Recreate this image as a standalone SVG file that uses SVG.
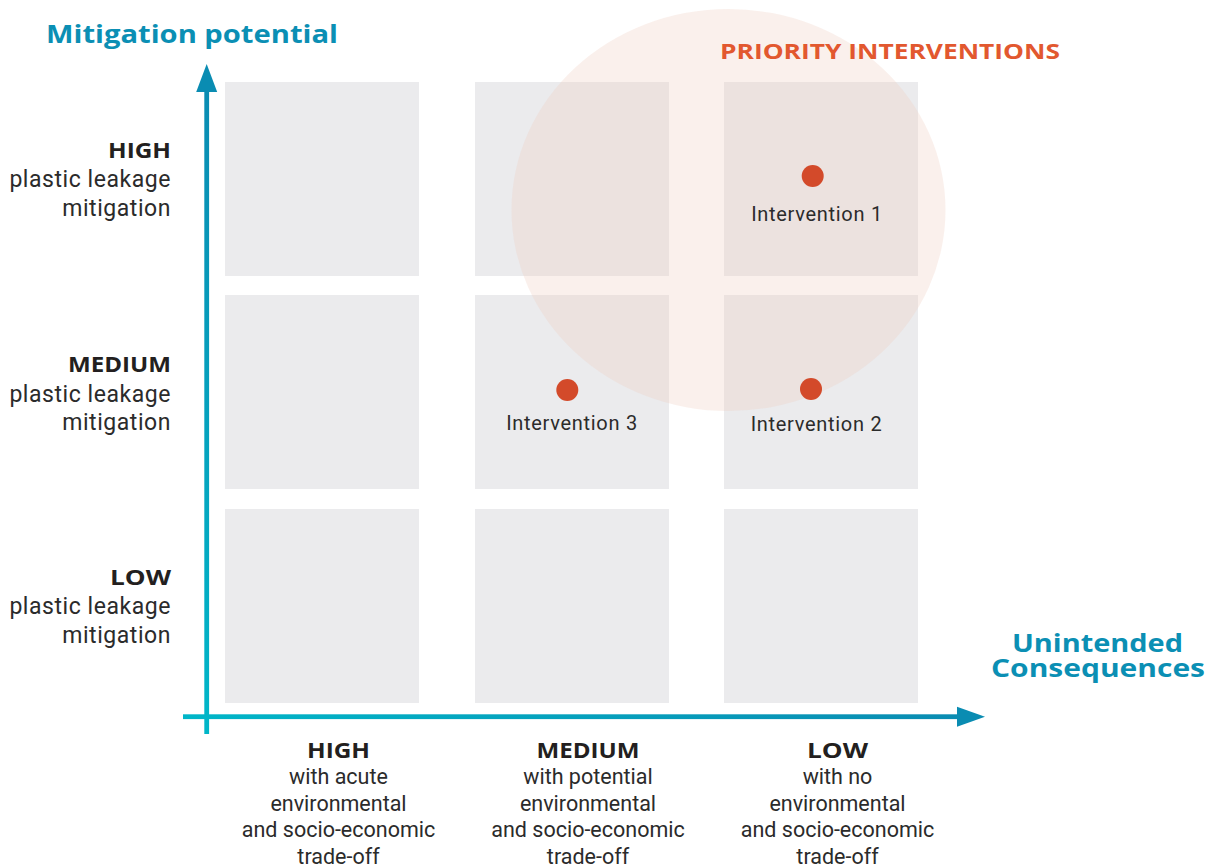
<svg xmlns="http://www.w3.org/2000/svg" width="1215" height="868" viewBox="0 0 1215 868">
<style>
.cell{fill:#ebebed}
.hd{font-family:"Open Sans",Lato,"Liberation Sans",sans-serif;font-weight:700}
.ttl{fill:#0b8fb4;font-size:25.5px}
.lvl{fill:#231f20;font-size:21.5px}
.bd{font-family:Roboto,"Liberation Sans",sans-serif;fill:#2b2b2b;font-size:21.5px}
.yb{font-family:Roboto,"Liberation Sans",sans-serif;fill:#2b2b2b;font-size:23px;letter-spacing:0.55px}
.lab{font-family:Roboto,"Liberation Sans",sans-serif;fill:#2b2b2b;font-size:20px;letter-spacing:0.7px;text-anchor:middle}
.dot{fill:#d34a2a}
</style>
<defs>
<linearGradient id="gv" x1="0" y1="0" x2="0" y2="1"><stop offset="0" stop-color="#0a8cb2"/><stop offset="1" stop-color="#00b6c8"/></linearGradient>
<linearGradient id="gh" x1="0" y1="0" x2="1" y2="0"><stop offset="0" stop-color="#00b6c8"/><stop offset="1" stop-color="#0a8cb2"/></linearGradient>
</defs>
<rect width="1215" height="868" fill="#ffffff"/>
<g id="grid">
<rect class="cell" x="225" y="82" width="194" height="194"/>
<rect class="cell" x="475" y="82" width="194" height="194"/>
<rect class="cell" x="724" y="82" width="194" height="194"/>
<rect class="cell" x="225" y="295" width="194" height="194"/>
<rect class="cell" x="475" y="295" width="194" height="194"/>
<rect class="cell" x="724" y="295" width="194" height="194"/>
<rect class="cell" x="225" y="509" width="194" height="194"/>
<rect class="cell" x="475" y="509" width="194" height="194"/>
<rect class="cell" x="724" y="509" width="194" height="194"/>
</g>
<g id="priority-zone">
<ellipse cx="728.5" cy="210" rx="217" ry="201" fill="#eecdc0" fill-opacity="0.3"/>
<text class="hd" x="720" y="59" fill="#e2582f" font-size="22" textLength="340" lengthAdjust="spacingAndGlyphs">PRIORITY INTERVENTIONS</text>
</g>
<g id="axes">
<rect x="204.3" y="90" width="4.8" height="644" fill="url(#gv)"/>
<polygon points="206.7,64 217.2,92 196.2,92" fill="#0a8cb2"/>
<rect x="183" y="714.3" width="776" height="4.8" fill="url(#gh)"/>
<polygon points="985,716.7 957,706.7 957,726.7" fill="#0a8cb2"/>
</g>
<g id="y-title"><text class="hd ttl" x="46" y="43" font-size="27.5" textLength="292" lengthAdjust="spacingAndGlyphs">Mitigation potential</text></g>
<g id="x-title">
<text class="hd ttl" x="1012" y="652" textLength="171" lengthAdjust="spacingAndGlyphs">Unintended</text>
<text class="hd ttl" x="991" y="677" textLength="214" lengthAdjust="spacingAndGlyphs">Consequences</text>
</g>
<g id="y-high" text-anchor="end">
<text class="hd lvl" x="171" y="157.5" textLength="63" lengthAdjust="spacingAndGlyphs">HIGH</text>
<text class="yb" x="171" y="187">plastic leakage</text>
<text class="yb" x="171" y="215.5">mitigation</text>
</g>
<g id="y-medium" text-anchor="end">
<text class="hd lvl" x="171" y="372" textLength="103" lengthAdjust="spacingAndGlyphs">MEDIUM</text>
<text class="yb" x="171" y="401.5">plastic leakage</text>
<text class="yb" x="171" y="430">mitigation</text>
</g>
<g id="y-low" text-anchor="end">
<text class="hd lvl" x="171" y="584.5" textLength="61" lengthAdjust="spacingAndGlyphs">LOW</text>
<text class="yb" x="171" y="614">plastic leakage</text>
<text class="yb" x="171" y="643">mitigation</text>
</g>
<g id="x-high" text-anchor="middle">
<text class="hd lvl" x="338.5" y="757.5" textLength="63" lengthAdjust="spacingAndGlyphs">HIGH</text>
<text class="bd" x="338.5" y="783.5">with acute</text>
<text class="bd" x="338.5" y="810.5">environmental</text>
<text class="bd" x="338.5" y="837">and socio-economic</text>
<text class="bd" x="338.5" y="863.5">trade-off</text>
</g>
<g id="x-medium" text-anchor="middle">
<text class="hd lvl" x="588" y="757.5" textLength="103" lengthAdjust="spacingAndGlyphs">MEDIUM</text>
<text class="bd" x="588" y="783.5">with potential</text>
<text class="bd" x="588" y="810.5">environmental</text>
<text class="bd" x="588" y="837">and socio-economic</text>
<text class="bd" x="588" y="863.5">trade-off</text>
</g>
<g id="x-low" text-anchor="middle">
<text class="hd lvl" x="837.5" y="757.5" textLength="61" lengthAdjust="spacingAndGlyphs">LOW</text>
<text class="bd" x="837.5" y="783.5">with no</text>
<text class="bd" x="837.5" y="810.5">environmental</text>
<text class="bd" x="837.5" y="837">and socio-economic</text>
<text class="bd" x="837.5" y="863.5">trade-off</text>
</g>
<g id="intervention-1">
<circle class="dot" cx="812.7" cy="176" r="11"/>
<text class="lab" x="817" y="220.5">Intervention 1</text>
</g>
<g id="intervention-2">
<circle class="dot" cx="811" cy="389" r="11"/>
<text class="lab" x="816.5" y="431">Intervention 2</text>
</g>
<g id="intervention-3">
<circle class="dot" cx="567.3" cy="390" r="11"/>
<text class="lab" x="572" y="430">Intervention 3</text>
</g>
</svg>
